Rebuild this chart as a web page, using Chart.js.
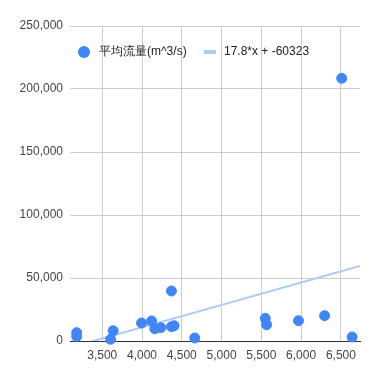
<!DOCTYPE html>
<html>
<head>
<meta charset="utf-8">
<script src="https://cdn.jsdelivr.net/npm/chart.js@4.4.1/dist/chart.umd.min.js"></script>
<style>
  html, body { margin: 0; padding: 0; background: #fff; }
  #wrap { width: 379px; height: 379px; }
</style>
</head>
<body>
<div id="wrap"><canvas id="chart"></canvas></div>
<script>
// ----- données -----
const xValues = [3179, 3179, 3605, 3638, 3994, 4120, 4161, 4236, 4370, 4370, 4403, 4663, 5549, 5566, 5967, 6295, 6641, 6510];
const yValues = [6600, 3600, 1350, 8170, 14300, 15900, 9760, 10560, 39700, 11350, 12140, 2380, 18000, 12900, 16100, 20100, 3200, 208500];
const seriesLabel = '平均流量(m^3/s)';
const trendSlope = 17.8;
const trendIntercept = -60323;
const trendLabel = '17.8*x + -60323';
const xTicks = [3500, 4000, 4500, 5000, 5500, 6000, 6500];
const yTicks = [0, 50000, 100000, 150000, 200000, 250000];
const xMin = 3095, xMax = 6740;

const blue = '#4285f4';
const lightBlue = '#aecbfa';

const points = xValues.map((x, i) => ({ x: x, y: yValues[i] }));
const trendPoints = [xMin, xMax].map(x => ({ x: x, y: trendSlope * x + trendIntercept }));

// légende dessinée dans la zone du graphique
const insideLegend = {
    id: 'insideLegend',
    afterDatasetsDraw(chart) {
        const ctx = chart.ctx;
        const y = 52;
        ctx.save();
        ctx.font = '12px "Liberation Sans", Arial, sans-serif';
        ctx.textBaseline = 'middle';
        ctx.fillStyle = blue;
        ctx.beginPath();
        ctx.arc(84, y, 6, 0, Math.PI * 2);
        ctx.fill();
        ctx.fillStyle = '#222';
        ctx.fillText(chart.data.datasets[0].label, 99, y);
        ctx.fillStyle = lightBlue;
        ctx.fillRect(204, y - 2, 12, 4);
        ctx.fillStyle = '#222';
        ctx.fillText(chart.data.datasets[1].label, 224, y);
        ctx.restore();
    }
};

const fmt = v => Number(v).toLocaleString('en-US');

new Chart(document.getElementById('chart').getContext('2d'), {
    type: 'scatter',
    data: {
        datasets: [{
            label: seriesLabel,
            data: points,
            backgroundColor: blue,
            borderColor: blue,
            pointRadius: 5,
            pointHoverRadius: 5,
            clip: false,
            order: 1
        }, {
            type: 'line',
            label: trendLabel,
            data: trendPoints,
            borderColor: lightBlue,
            borderWidth: 2,
            pointRadius: 0,
            fill: false,
            order: 2
        }]
    },
    options: {
        responsive: true,
        maintainAspectRatio: false,
        animation: false,
        layout: { padding: { left: 0, right: 19, top: 26, bottom: 8 } },
        plugins: {
            legend: { display: false },
            tooltip: { enabled: false }
        },
        scales: {
            x: {
                type: 'linear',
                min: xMin,
                max: xMax,
                afterBuildTicks: s => { s.ticks = xTicks.map(v => ({ value: v })); },
                afterFit: s => { s.height = 30; },
                border: { display: true, color: '#333', width: 1 },
                grid: { color: '#cccccc', drawTicks: false },
                ticks: {
                    padding: 7,
                    color: '#444',
                    font: { family: '"Liberation Sans", Arial, sans-serif', size: 12 },
                    maxRotation: 0,
                    callback: v => fmt(v)
                }
            },
            y: {
                min: 0,
                max: 250000,
                afterBuildTicks: s => { s.ticks = yTicks.map(v => ({ value: v })); },
                afterFit: s => { s.width = 70; },
                border: { display: false },
                grid: {
                    color: c => (c.tick && c.tick.value === 0) ? '#333' : '#cccccc',
                    drawTicks: false
                },
                ticks: {
                    padding: 7,
                    color: '#444',
                    font: { family: '"Liberation Sans", Arial, sans-serif', size: 12 },
                    callback: v => fmt(v)
                }
            }
        }
    },
    plugins: [insideLegend]
});
</script>
</body>
</html>
